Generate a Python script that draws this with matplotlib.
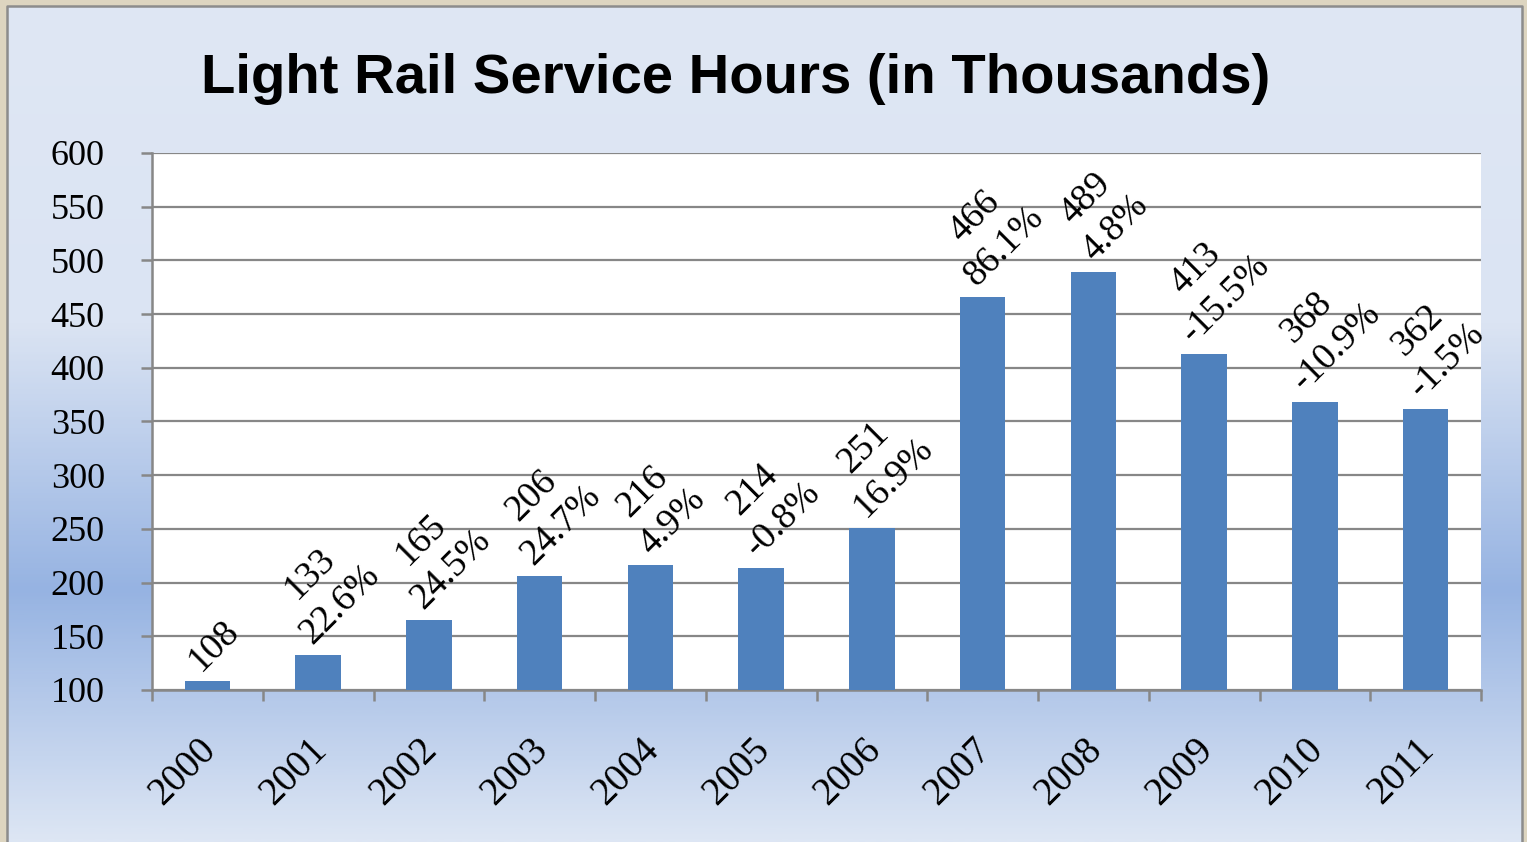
import numpy as np
import matplotlib.pyplot as plt
import matplotlib.transforms as mtransforms
from matplotlib.colors import LinearSegmentedColormap
from matplotlib.patches import Rectangle

# ===== DATA =====
years = ["2000", "2001", "2002", "2003", "2004", "2005",
         "2006", "2007", "2008", "2009", "2010", "2011"]
hours = [108, 133, 165, 206, 216, 214, 251, 466, 489, 413, 368, 362]
change = ["", "22.6%", "24.5%", "24.7%", "4.9%", "-0.8%",
          "16.9%", "86.1%", "4.8%", "-15.5%", "-10.9%", "-1.5%"]
y_ticks = [100, 150, 200, 250, 300, 350, 400, 450, 500, 550, 600]

W, H = 1527, 842
fig = plt.figure(figsize=(W / 100, H / 100), dpi=100)

# ===== BACKGROUND =====
bg = fig.add_axes([0, 0, 1, 1])
bg.set_xlim(0, W)
bg.set_ylim(H, 0)
bg.axis("off")
cmap = LinearSegmentedColormap.from_list(
    "bg", [(0.0, "#dfe7f4"), (0.38, "#dbe4f3"), (0.70, "#96b3e2"), (1.0, "#dde6f4")])
grad = np.linspace(0, 1, 400).reshape(-1, 1)
bg.imshow(grad, cmap=cmap, aspect="auto", extent=[7, 1522, H, 5], zorder=0)
bg.add_patch(Rectangle((0, 0), W, 5, color="#ddd5c0", zorder=1))
bg.add_patch(Rectangle((0, 0), 6, H, color="#ddd5c0", zorder=1))
bg.add_patch(Rectangle((1523, 0), 4, H, color="#ddd5c0", zorder=1))
bg.plot([7, 7, 1522, 1522], [H, 5.5, 5.5, H], color="#8c8c8c", lw=1.8, zorder=2)

# ===== TITLE =====
fig.text(0.482, 0.8895, "Light Rail Service Hours (in Thousands)",
         family="Liberation Sans", weight="bold", fontsize=40.5,
         ha="center", va="baseline")

# ===== CHART =====
ax = fig.add_axes([152 / W, 1 - 690 / H, (1481 - 152) / W, (690 - 153) / H])
ax.set_facecolor("white")
x = np.arange(len(years))
ax.bar(x, hours, width=0.41, color="#4f81bd", zorder=3)

ax.set_xlim(-0.5, len(years) - 0.5)
ax.set_ylim(100, 600)
ax.set_yticks(y_ticks)
ax.yaxis.grid(True, color="#878787", lw=1.6, zorder=1)
ax.set_axisbelow(True)

for s in ["top", "right"]:
    ax.spines[s].set_visible(False)
for s in ["left", "bottom"]:
    ax.spines[s].set_color("#878787")
    ax.spines[s].set_linewidth(1.8)

serif = "Liberation Serif"
ax.set_xticks(np.arange(-0.5, len(years)), labels=[])
ax.set_xticks(x, labels=years, minor=True)
ax.tick_params(axis="x", which="major", length=8, width=1.8, color="#878787")
ax.tick_params(axis="x", which="minor", length=0, pad=30)
ax.tick_params(axis="y", length=8, width=1.8, color="#878787", pad=26)
shift = mtransforms.ScaledTranslation(-10 / 100, 0, fig.dpi_scale_trans)
for lab in ax.get_xticklabels(minor=True):
    lab.set_family(serif)
    lab.set_fontsize(28)
    lab.set_rotation(45)
    lab.set_ha("right")
    lab.set_va("top")
    lab.set_rotation_mode("anchor")
    lab.set_transform(lab.get_transform() + shift)
for lab in ax.get_yticklabels():
    lab.set_family(serif)
    lab.set_fontsize(26)

# data labels: value and change from previous year
for i, (v, c) in enumerate(zip(hours, change)):
    txt = str(v) if c == "" else f"{v}\n{c}"
    ax.annotate(txt, (x[i], v), xytext=(5, 3), textcoords="offset points",
                ha="center", va="bottom", rotation=45, multialignment="center",
                linespacing=1.3, family=serif, fontsize=27, zorder=4)

fig.savefig("out.png", dpi=100)
